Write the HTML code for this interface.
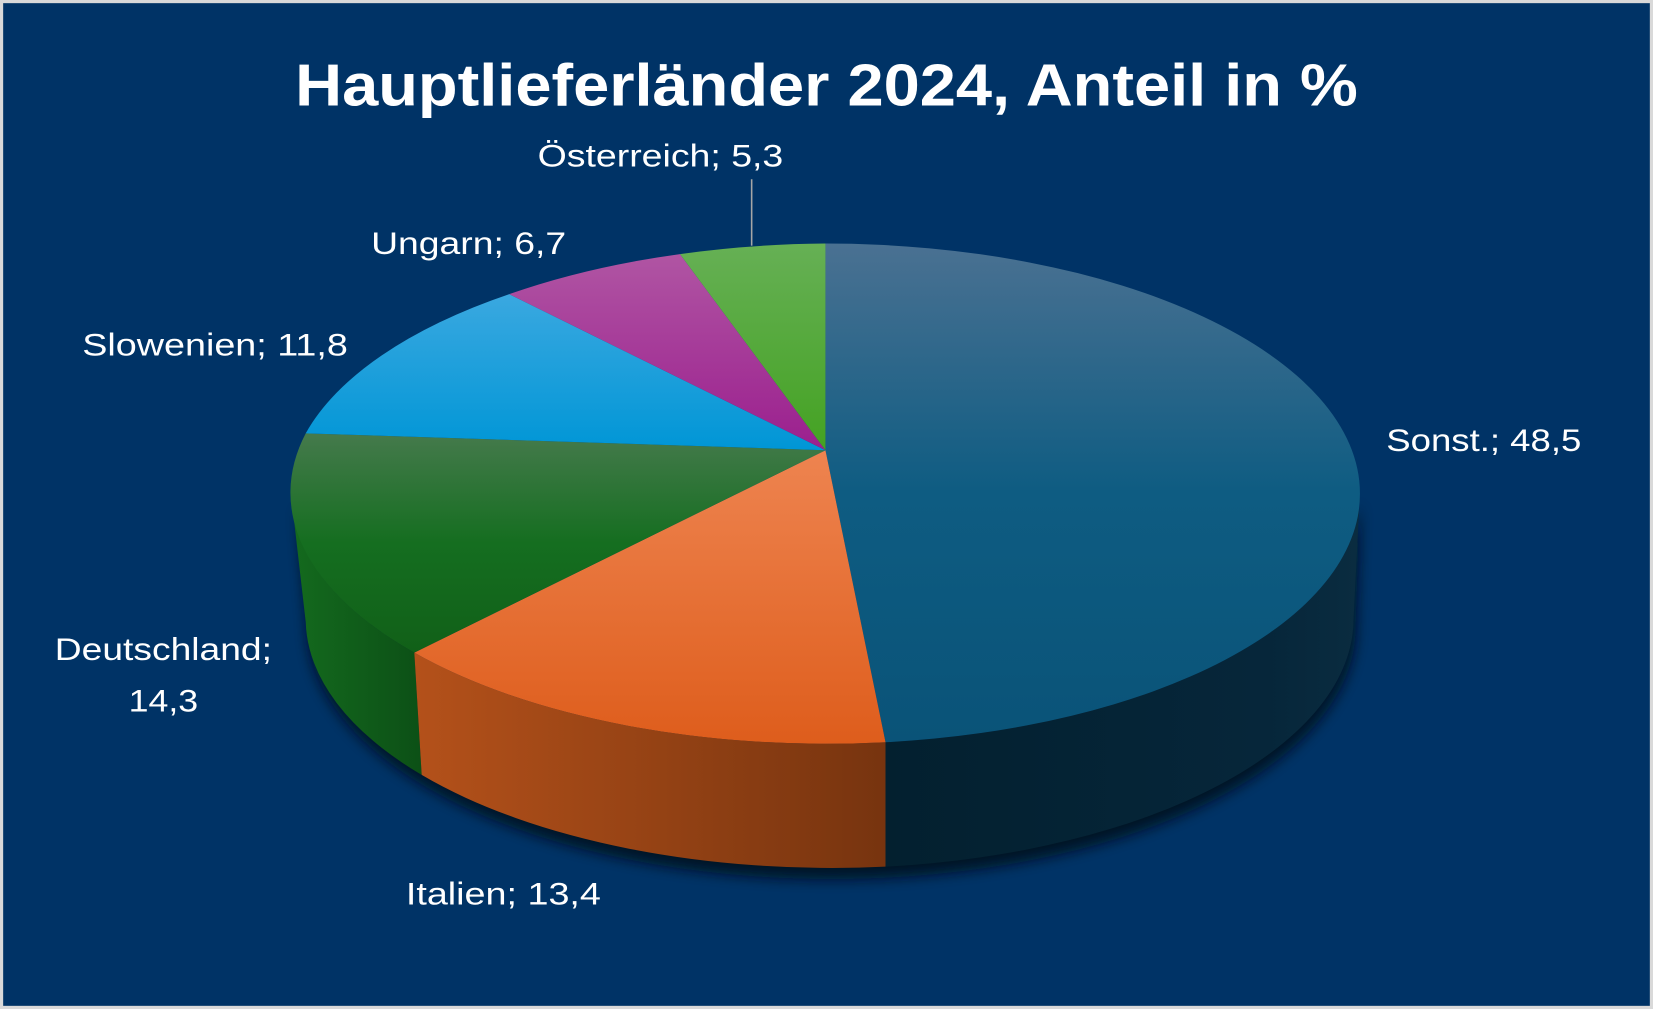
<!DOCTYPE html>
<html><head><meta charset="utf-8"><style>
html,body{margin:0;padding:0;background:#d9d9d9;}
svg{display:block;}
text{font-family:"Liberation Sans",sans-serif;fill:#fff;}
</style></head><body>
<svg width="1653" height="1009" viewBox="0 0 1568 957" preserveAspectRatio="none" xmlns="http://www.w3.org/2000/svg">
<defs>
<linearGradient id="gS" x1="0" y1="0" x2="0" y2="1"><stop offset="0" stop-color="#4a7192"/><stop offset="0.5" stop-color="#0e5c82"/><stop offset="1" stop-color="#0a5378"/></linearGradient>
<linearGradient id="gI" x1="0" y1="0" x2="0" y2="1"><stop offset="0" stop-color="#ee8450"/><stop offset="1" stop-color="#de5d1c"/></linearGradient>
<linearGradient id="gD" x1="0" y1="0" x2="0" y2="1"><stop offset="0" stop-color="#457a4c"/><stop offset="0.5" stop-color="#156e20"/><stop offset="1" stop-color="#116018"/></linearGradient>
<linearGradient id="gSl" x1="0" y1="0" x2="0" y2="1"><stop offset="0" stop-color="#3aa8e0"/><stop offset="1" stop-color="#0096d6"/></linearGradient>
<linearGradient id="gU" x1="0" y1="0" x2="0" y2="1"><stop offset="0" stop-color="#b055a3"/><stop offset="1" stop-color="#9b1f8e"/></linearGradient>
<linearGradient id="gO" x1="0" y1="0" x2="0" y2="1"><stop offset="0" stop-color="#66b055"/><stop offset="1" stop-color="#44a222"/></linearGradient>
<linearGradient id="sI" x1="0" y1="0" x2="1" y2="0"><stop offset="0" stop-color="#b4511a"/><stop offset="1" stop-color="#77340f"/></linearGradient>
<linearGradient id="sS" x1="0" y1="0" x2="1" y2="0"><stop offset="0" stop-color="#03202f"/><stop offset="0.8" stop-color="#06263a"/><stop offset="1" stop-color="#0a2c40"/></linearGradient>
<linearGradient id="sD" x1="0" y1="0" x2="1" y2="0"><stop offset="0" stop-color="#146a1e"/><stop offset="1" stop-color="#0c5016"/></linearGradient>
<filter id="sh" x="-10%" y="-10%" width="120%" height="130%"><feGaussianBlur stdDeviation="6"/></filter>
</defs>
<rect x="0" y="0" width="1568" height="957" fill="#d9d9d9"/>
<rect x="3" y="3" width="1562" height="951" fill="#003366"/>
<text x="784" y="100" font-size="56" font-weight="bold" text-anchor="middle" textLength="1008" lengthAdjust="spacingAndGlyphs">Hauptlieferländer 2024, Anteil in %</text>
<path d="M280,470 A505,237 0 0 0 1288,470 L1284,590 A497,238 0 0 1 290,590 Z" fill="#000814" opacity="0.8" filter="url(#sh)" transform="translate(2,6)"/>
<path d="M276,468 A507,237 0 0 0 393,619 L400,735 A500,237 0 0 1 290,590 Z" fill="url(#sD)"/>
<path d="M393,619 A507,237 0 0 0 840,704 L840,822 A500,237 0 0 1 400,735 Z" fill="url(#sI)"/>
<path d="M840,704 A507,237 0 0 0 1290,468 L1284,586 A500,237 0 0 1 840,822 Z" fill="url(#sS)"/>
<path d="M783,427 L783,231 A507,237 0 0 1 1290,468 A507,237 0 0 1 840,704 Z" fill="url(#gS)"/>
<path d="M783,427 L840,704 A507,237 0 0 1 393,619 Z" fill="url(#gI)"/>
<path d="M783,427 L393,619 A507,237 0 0 1 290,411 Z" fill="url(#gD)"/>
<path d="M783,427 L290,411 A507,237 0 0 1 483,279 Z" fill="url(#gSl)"/>
<path d="M783,427 L483,279 A507,237 0 0 1 645,241 Z" fill="url(#gU)"/>
<path d="M783,427 L645,241 A507,237 0 0 1 783,231 Z" fill="url(#gO)"/>
<line x1="713" y1="170" x2="713" y2="233" stroke="#a6a6a6" stroke-width="1.5"/>
<g font-size="30">
<text x="1315" y="428" textLength="185" lengthAdjust="spacingAndGlyphs">Sonst.; 48,5</text>
<text x="510" y="158" textLength="233" lengthAdjust="spacingAndGlyphs">Österreich; 5,3</text>
<text x="352" y="241" textLength="185" lengthAdjust="spacingAndGlyphs">Ungarn; 6,7</text>
<text x="78" y="337" textLength="252" lengthAdjust="spacingAndGlyphs">Slowenien; 11,8</text>
<text x="52" y="626" textLength="206" lengthAdjust="spacingAndGlyphs">Deutschland;</text>
<text x="122" y="675" textLength="66" lengthAdjust="spacingAndGlyphs">14,3</text>
<text x="385" y="858" textLength="185" lengthAdjust="spacingAndGlyphs">Italien; 13,4</text>
</g>
</svg>
</body></html>
